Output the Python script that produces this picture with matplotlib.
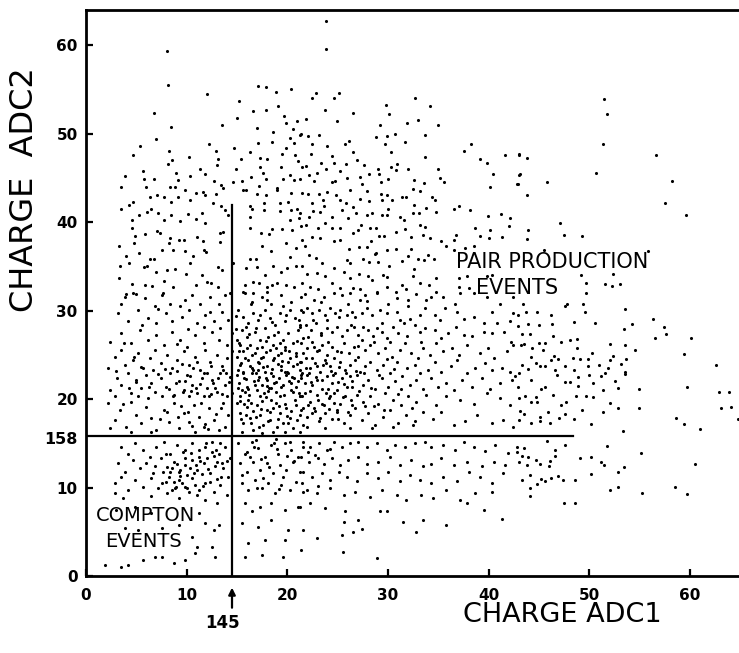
import numpy as np
import matplotlib.pyplot as plt

# events, (ADC1, ADC2) charge pairs, grouped by area of the plane
upper_left = [
    (8.0, 59.4), (8.1, 55.5), (12.0, 54.5), (17.1, 55.4), (17.9, 55.3), (18.9, 54.7), (20.4, 55.1), (6.8, 52.3),
    (15.2, 53.7), (16.6, 52.6), (17.9, 52.7), (19.1, 53.1), (15.0, 51.8), (8.4, 50.8), (13.5, 51.0), (17.0, 50.7),
    (18.6, 50.2), (19.7, 52.0), (19.9, 51.2), (21.0, 51.5), (20.6, 50.5), (21.4, 50.0), (7.0, 49.4), (5.4, 48.6),
    (4.7, 47.6), (8.2, 48.1), (8.1, 46.6), (8.5, 47.0), (12.2, 48.8), (10.2, 47.4), (12.9, 48.1), (14.7, 48.4),
    (15.4, 47.2), (16.3, 47.9), (17.1, 49.0), (17.3, 47.3), (18.0, 47.2), (18.5, 49.1), (19.9, 48.4), (20.3, 49.5),
    (20.7, 49.0), (20.8, 47.6), (21.1, 46.9), (19.5, 47.7), (3.9, 45.2), (3.5, 44.0), (5.7, 45.8), (5.8, 44.9),
    (6.8, 44.9), (8.3, 44.0), (8.9, 45.6), (8.8, 44.0), (9.1, 44.8), (10.3, 45.2), (11.3, 46.0), (11.8, 45.5),
    (12.7, 44.7), (13.0, 46.5), (13.1, 47.2), (13.4, 44.2), (13.6, 43.9), (14.6, 44.5), (14.9, 46.0), (15.5, 44.7),
    (15.9, 43.7), (16.4, 45.1), (17.3, 46.2), (17.6, 45.6), (17.9, 44.9), (17.2, 44.1), (19.6, 44.9), (19.4, 46.3),
    (19.0, 43.9), (20.3, 45.3), (20.7, 44.8), (21.5, 46.3), (3.5, 41.5), (4.3, 42.0), (4.7, 42.3), (6.0, 44.0),
    (6.4, 42.8), (7.1, 43.1), (7.7, 42.9), (8.4, 42.3), (9.1, 42.9), (9.8, 43.7), (10.3, 42.5), (10.9, 43.3),
    (11.6, 43.4), (11.8, 43.1), (12.6, 42.2), (12.9, 43.2), (13.4, 41.8), (13.8, 41.4), (15.6, 43.6), (16.3, 41.8),
    (16.5, 41.5), (17.0, 43.2), (17.7, 42.2), (17.9, 43.1), (19.0, 43.7), (19.3, 42.2), (20.1, 42.3), (20.4, 43.3),
    (21.0, 41.5), (21.5, 43.3), (5.3, 40.8), (6.1, 41.2), (6.5, 41.5), (7.2, 41.0), (7.7, 40.2), (4.6, 40.2),
    (8.4, 40.8), (9.3, 40.1), (10.1, 40.9), (10.9, 40.4), (11.5, 41.1), (11.8, 39.9), (14.1, 40.8), (16.3, 40.6),
    (17.7, 41.4), (19.3, 41.3), (20.4, 41.4), (20.3, 40.3), (21.2, 40.5), (4.6, 39.4), (4.9, 38.5), (5.9, 38.7),
    (7.1, 39.0), (7.3, 38.8), (8.3, 38.2), (9.2, 38.0), (9.7, 38.0), (11.0, 38.3), (11.6, 37.9), (13.3, 38.8),
    (13.6, 38.9), (16.3, 39.4), (17.4, 38.8), (18.2, 38.7), (18.5, 39.2), (19.5, 39.2), (20.5, 39.1), (21.4, 39.6),
    (4.8, 37.7), (5.3, 36.5), (3.3, 37.3), (4.0, 36.2), (6.4, 35.9), (6.8, 35.9), (7.5, 36.9), (8.2, 37.7),
    (8.6, 36.9), (9.8, 36.8), (10.6, 36.2), (11.7, 36.9), (11.9, 36.6), (13.3, 37.8), (16.3, 35.9), (16.9, 35.8),
    (17.5, 37.3), (18.4, 36.7), (19.9, 37.6), (20.3, 36.1), (20.9, 37.1), (21.7, 37.3), (3.4, 35.1), (4.3, 35.4),
    (5.8, 34.9), (6.1, 35.1), (7.0, 34.4), (8.0, 34.6), (8.8, 34.7), (9.9, 34.1), (10.3, 35.4), (11.5, 34.0),
    (13.1, 34.9), (13.5, 34.6), (14.6, 35.4), (15.9, 34.8), (17.0, 34.9), (17.8, 34.0), (18.6, 35.0), (19.4, 34.4),
    (20.0, 34.8), (20.9, 35.0), (3.3, 33.7), (4.6, 33.0), (5.9, 32.9), (6.6, 32.8), (7.7, 33.4), (8.6, 32.7),
    (10.9, 32.9), (12.0, 33.2), (12.4, 33.1), (13.1, 32.7), (15.8, 32.9), (16.6, 33.2), (17.2, 33.1), (18.0, 32.7),
    (18.5, 32.9), (19.0, 33.1), (19.9, 32.9), (20.7, 32.7), (21.5, 33.1), (4.0, 31.9), (5.0, 31.9), (7.6, 32.0),
    (14.3, 32.0), (15.6, 32.1), (16.6, 32.0), (18.0, 32.1),
]

upper_mid = [
    (23.8, 62.7), (23.8, 59.6), (22.8, 54.6), (22.4, 54.1), (24.6, 54.0), (25.1, 54.6), (23.7, 52.7), (21.8, 51.7),
    (24.9, 51.4), (26.5, 52.3), (29.8, 53.3), (32.7, 54.0), (34.2, 53.1), (30.1, 52.2), (29.2, 51.0), (31.9, 51.2),
    (33.0, 51.6), (35.0, 51.0), (21.3, 49.9), (22.0, 49.7), (23.1, 49.9), (22.4, 48.8), (23.9, 48.6), (22.3, 47.7),
    (24.4, 47.5), (25.7, 48.8), (26.1, 49.2), (26.5, 48.0), (28.8, 49.6), (29.7, 48.8), (29.9, 49.7), (30.7, 50.0),
    (31.7, 49.1), (33.7, 49.9), (33.7, 47.4), (30.3, 48.0), (21.8, 46.4), (23.3, 46.7), (24.6, 46.7), (25.8, 46.6),
    (26.9, 47.0), (27.6, 46.5), (29.0, 46.0), (30.3, 46.3), (30.9, 46.6), (30.8, 45.9), (32.0, 46.0), (35.0, 46.0),
    (37.5, 48.1), (38.2, 48.8), (39.1, 47.1), (39.8, 46.7), (41.6, 47.6), (43.0, 47.6), (40.4, 45.4), (40.1, 44.0),
    (43.0, 45.3), (42.8, 44.3), (21.3, 44.9), (22.1, 45.3), (22.6, 44.7), (22.9, 45.6), (23.8, 46.0), (24.4, 44.5),
    (24.7, 44.7), (25.2, 45.8), (25.9, 45.0), (27.2, 45.1), (27.4, 44.3), (28.1, 45.4), (29.1, 45.4), (29.3, 44.6),
    (30.0, 44.9), (32.6, 44.8), (33.6, 44.4), (35.2, 45.0), (35.6, 44.5), (33.2, 43.5), (32.5, 43.8), (22.0, 43.2),
    (22.4, 42.2), (23.1, 43.2), (23.5, 42.5), (23.9, 43.4), (24.8, 43.1), (25.2, 42.5), (26.2, 43.7), (25.8, 42.2),
    (27.2, 42.6), (27.9, 43.5), (28.1, 42.4), (29.3, 43.2), (29.4, 42.5), (29.9, 43.1), (30.4, 42.5), (31.4, 42.9),
    (31.8, 42.9), (32.6, 42.0), (33.8, 41.6), (34.4, 42.9), (34.7, 42.5), (34.8, 41.2), (36.5, 41.5), (37.0, 41.8),
    (38.1, 41.4), (39.9, 40.7), (41.2, 40.9), (42.1, 40.5), (42.0, 39.6), (38.6, 39.4), (40.1, 39.1), (39.1, 38.5),
    (40.0, 38.2), (41.3, 38.3), (21.3, 41.0), (22.1, 40.6), (22.5, 41.3), (23.2, 41.2), (23.6, 41.8), (24.4, 40.6),
    (25.4, 41.4), (26.0, 40.5), (26.5, 41.7), (26.8, 41.1), (27.9, 40.8), (28.4, 41.0), (29.4, 40.8), (29.9, 40.8),
    (30.0, 41.5), (31.2, 40.6), (31.6, 40.3), (32.5, 41.0), (33.1, 41.0), (21.8, 39.7), (23.0, 39.4), (23.7, 39.9),
    (24.4, 39.4), (25.2, 39.4), (26.5, 38.8), (27.0, 39.1), (27.3, 39.7), (28.2, 39.4), (28.8, 39.3), (29.1, 38.4),
    (29.6, 38.5), (30.8, 38.9), (31.7, 39.2), (32.3, 38.3), (33.2, 39.7), (33.7, 39.5), (33.5, 38.6), (34.2, 38.2),
    (35.3, 37.9), (36.5, 38.0), (36.7, 38.6), (37.6, 37.1), (38.5, 37.3), (21.5, 38.0), (22.4, 38.3), (23.2, 38.2),
    (24.6, 37.9), (25.2, 38.0), (26.1, 37.0), (27.1, 37.2), (27.9, 37.2), (28.3, 37.9), (28.8, 36.5), (29.9, 36.9),
    (30.8, 37.0), (32.0, 36.2), (32.3, 37.0), (33.0, 35.9), (33.6, 35.7), (34.0, 36.3), (34.6, 35.9), (22.1, 36.3),
    (22.8, 36.0), (23.4, 35.4), (24.6, 34.8), (25.9, 35.7), (26.2, 35.4), (27.5, 35.9), (28.1, 35.5), (28.7, 36.4),
    (29.0, 35.5), (30.1, 35.1), (31.4, 35.6), (32.6, 34.7), (21.5, 35.0), (21.9, 34.2), (22.9, 34.3), (23.7, 33.9),
    (24.4, 33.1), (25.6, 34.4), (26.2, 33.7), (27.1, 34.2), (28.0, 33.9), (28.4, 33.5), (29.5, 34.0), (29.9, 33.8),
    (31.4, 32.9), (32.5, 33.9), (33.2, 33.1), (34.1, 32.9), (34.8, 33.7), (22.2, 32.7), (23.0, 32.4), (25.2, 32.6),
    (26.5, 32.6), (27.2, 32.4), (28.9, 32.1), (29.9, 32.7), (30.8, 32.1), (31.8, 32.5), (34.8, 32.1), (36.5, 36.9),
    (35.8, 37.3), (37.0, 33.7), (37.8, 33.9), (37.0, 32.7), (38.0, 32.6), (40.3, 34.0), (39.8, 33.9),
]

upper_right = [
    (51.4, 53.9), (51.7, 52.2), (51.3, 48.8), (43.0, 47.7), (43.8, 47.3), (43.1, 45.4), (42.9, 44.3), (43.8, 43.1),
    (45.8, 44.5), (50.6, 45.6), (56.6, 47.6), (58.2, 44.7), (57.5, 42.2), (59.6, 40.8), (47.1, 39.9), (43.9, 39.1),
    (43.8, 38.1), (47.5, 38.6), (49.3, 38.5), (45.5, 36.9), (55.8, 36.7), (49.2, 34.0), (52.3, 34.2), (49.7, 33.1),
    (51.5, 33.0), (52.2, 32.8), (53.0, 33.0),
]

lower_right = [
    (49.7, 32.0), (43.4, 30.8), (42.9, 29.5), (43.7, 29.9), (44.8, 29.9), (46.2, 29.5), (47.6, 30.5), (47.8, 30.7),
    (49.4, 30.7), (49.6, 29.8), (53.5, 30.2), (56.3, 29.1), (57.4, 28.2), (57.6, 27.4), (56.5, 26.9), (60.1, 26.9),
    (42.9, 28.3), (43.9, 28.5), (45.0, 28.4), (46.3, 28.5), (48.5, 28.7), (50.5, 28.6), (54.2, 28.5), (53.4, 27.9),
    (43.3, 27.4), (44.1, 27.4), (46.4, 27.1), (43.2, 26.1), (43.5, 26.2), (44.3, 25.8), (45.0, 26.3), (45.6, 26.4),
    (45.4, 25.6), (47.2, 26.5), (48.1, 26.7), (48.8, 26.8), (48.8, 25.8), (52.0, 26.2), (53.5, 26.1), (54.5, 25.5),
    (50.3, 25.2), (59.4, 25.1), (62.6, 23.9), (44.2, 24.8), (43.3, 23.9), (43.9, 23.4), (44.7, 24.1), (45.1, 23.8),
    (45.6, 23.8), (46.2, 24.4), (46.5, 24.9), (46.9, 24.5), (47.6, 23.7), (48.4, 24.7), (49.1, 24.5), (49.9, 24.5),
    (49.9, 23.7), (50.9, 23.9), (52.0, 24.4), (52.3, 24.9), (53.1, 24.0), (53.6, 24.5), (51.8, 23.5), (51.5, 22.9),
    (53.5, 23.1), (53.5, 22.8), (43.0, 23.0), (42.6, 22.6), (46.6, 23.3), (46.8, 22.7), (48.5, 23.3), (48.9, 22.5),
    (50.0, 22.7), (51.1, 22.6), (52.5, 22.0), (52.8, 21.3), (44.2, 22.2), (45.2, 21.2), (45.6, 21.4), (42.9, 21.4),
    (47.6, 21.9), (48.1, 21.9), (48.9, 21.5), (50.4, 21.8), (51.3, 21.0), (54.9, 21.1), (59.7, 21.4), (62.9, 20.8),
    (63.9, 20.8), (43.0, 20.1), (43.6, 20.4), (44.2, 19.7), (44.7, 20.2), (44.8, 19.7), (46.4, 20.5), (47.2, 19.3),
    (47.7, 19.7), (48.7, 20.3), (49.7, 20.4), (50.4, 20.2), (52.0, 19.6), (52.8, 19.0), (54.9, 19.0), (63.1, 19.0),
    (64.1, 19.1), (64.8, 17.8), (43.1, 18.7), (43.5, 18.3), (45.1, 18.0), (45.9, 18.6), (47.0, 17.9), (47.6, 18.3),
    (48.5, 17.8), (49.3, 18.8), (51.3, 18.5), (43.0, 17.6), (44.2, 17.3), (45.1, 17.5), (46.1, 17.3), (50.2, 17.2),
    (58.6, 17.9), (59.4, 17.2), (61.0, 16.6), (53.3, 16.4), (45.8, 15.3), (47.6, 14.8), (51.7, 14.7), (43.5, 14.5),
    (42.8, 14.0), (43.3, 13.6), (43.9, 13.4), (44.7, 13.1), (45.1, 12.7), (46.1, 13.0), (46.0, 12.4), (46.6, 14.3),
    (46.6, 13.6), (43.0, 12.9), (43.8, 12.6), (49.1, 13.3), (50.2, 13.5), (51.1, 12.9), (51.4, 12.6), (55.1, 13.9),
    (60.5, 12.7), (53.4, 12.3), (52.8, 11.8), (43.3, 10.8), (44.1, 11.4), (44.8, 10.4), (45.2, 11.0), (45.6, 10.7),
    (46.2, 11.1), (46.9, 11.3), (47.4, 10.8), (48.6, 10.8), (50.2, 11.5), (44.1, 10.0), (44.1, 9.0), (52.0, 9.7),
    (52.8, 10.1), (55.2, 9.4), (58.5, 10.1), (59.7, 9.3), (47.5, 8.3), (48.6, 8.3),
]

mid_band = [
    (21.7, 31.9), (22.6, 31.2), (23.6, 31.6), (24.6, 32.0), (25.4, 31.8), (26.2, 32.0), (27.2, 31.2), (27.7, 31.8),
    (28.9, 32.0), (30.0, 30.8), (30.9, 31.4), (32.0, 31.2), (32.8, 31.9), (33.8, 31.2), (34.3, 31.6), (35.5, 31.6),
    (36.6, 30.8), (37.1, 32.0), (38.5, 32.0), (39.8, 31.6), (41.1, 30.8), (42.4, 31.6),
    (21.4, 30.1), (21.9, 30.3), (22.4, 29.7), (23.1, 30.1), (23.7, 29.5), (24.2, 30.3), (24.7, 29.7), (25.2, 30.1),
    (25.9, 29.5), (26.4, 29.9), (26.7, 29.3), (27.4, 29.7), (27.9, 30.3), (28.4, 29.5), (29.2, 30.1), (29.9, 29.7),
    (30.9, 29.9), (31.2, 29.0), (32.0, 30.5), (32.2, 29.1), (33.2, 29.5), (33.7, 30.3), (34.7, 29.5), (35.2, 29.0),
    (35.7, 30.3), (36.8, 29.9), (37.5, 29.1), (38.5, 29.3), (39.5, 28.6), (40.3, 29.9), (40.8, 28.6), (42.1, 28.8),
    (42.4, 29.7),
    (21.3, 28.2), (21.8, 28.4), (22.3, 27.8), (22.8, 28.6), (23.3, 27.5), (23.9, 28.0), (24.4, 27.6), (24.9, 28.2),
    (25.4, 27.1), (25.9, 27.8), (26.6, 28.2), (27.0, 27.3), (27.4, 26.7), (28.0, 27.8), (28.5, 27.1), (29.4, 27.6),
    (29.9, 26.9), (30.5, 28.2), (31.0, 27.5), (31.9, 27.1), (32.7, 28.4), (33.2, 27.6), (33.7, 28.0), (34.7, 27.8),
    (35.3, 26.9), (36.0, 27.5), (36.7, 28.2), (37.5, 27.3), (38.3, 27.1), (39.5, 27.6), (40.3, 27.5), (41.5, 27.6),
    (42.2, 26.5),
    (21.4, 26.3), (21.9, 25.8), (22.4, 26.5), (22.9, 25.4), (23.4, 26.1), (23.9, 25.0), (24.4, 25.9), (24.9, 25.4),
    (25.6, 26.3), (26.1, 25.2), (26.6, 25.9), (27.0, 24.8), (27.7, 25.6), (28.2, 26.1), (29.0, 25.2), (29.7, 25.8),
    (30.4, 24.8), (31.2, 25.6), (31.7, 26.3), (32.3, 25.2), (33.0, 24.6), (33.5, 25.8), (34.2, 25.0), (34.8, 26.3),
    (35.5, 25.4), (36.3, 25.8), (37.0, 25.0), (37.8, 26.1), (39.1, 25.2), (39.9, 25.8), (40.5, 24.6), (41.8, 25.4),
    (42.4, 26.1),
    (21.3, 24.2), (21.8, 24.6), (22.2, 23.5), (22.7, 24.1), (23.2, 23.1), (23.7, 24.4), (24.2, 23.7), (24.7, 22.9),
    (25.2, 24.2), (25.7, 23.3), (26.2, 23.9), (26.7, 24.4), (27.2, 23.1), (27.7, 23.7), (28.2, 24.2), (28.9, 23.3),
    (29.5, 23.9), (30.2, 22.9), (30.9, 24.2), (31.9, 23.5), (32.7, 23.9), (33.2, 22.9), (34.0, 23.3), (34.7, 24.2),
    (35.3, 23.1), (36.2, 23.7), (36.8, 24.4), (37.8, 22.9), (38.6, 23.5), (39.6, 24.1), (40.3, 23.3), (41.3, 23.5),
    (42.1, 23.1),
    (21.4, 22.4), (21.9, 22.7), (22.4, 21.6), (22.9, 22.2), (23.4, 21.2), (23.9, 22.6), (24.4, 21.8), (24.9, 21.0),
    (25.4, 22.4), (25.9, 21.4), (26.4, 22.0), (26.9, 22.7), (27.5, 21.6), (28.0, 22.2), (28.7, 21.2), (29.4, 22.4),
    (30.0, 21.4), (30.7, 22.0), (31.4, 22.6), (32.2, 21.6), (32.8, 22.2), (33.5, 21.2), (34.3, 22.4), (35.0, 21.4),
    (35.8, 21.8), (36.5, 21.0), (37.3, 22.2), (38.3, 21.4), (39.3, 22.4), (40.1, 21.2), (41.1, 21.8), (42.3, 22.2),
    (21.3, 20.3), (21.7, 20.7), (22.2, 19.7), (22.9, 20.5), (23.6, 19.3), (24.1, 20.1), (24.6, 20.7), (25.2, 19.5),
    (25.7, 20.3), (26.4, 19.3), (26.9, 20.5), (27.5, 19.7), (28.2, 20.3), (29.0, 19.5), (29.7, 20.7), (30.5, 19.9),
    (31.3, 19.3), (32.0, 20.3), (32.8, 19.7), (33.8, 20.5), (34.8, 19.3), (35.8, 20.3), (37.1, 19.9), (38.5, 19.5),
    (39.8, 20.7), (41.1, 20.1), (42.1, 19.3),
    (21.4, 18.8), (21.9, 18.0), (22.6, 19.0), (23.1, 17.5), (23.7, 18.4), (24.4, 17.8), (24.9, 18.8), (25.6, 17.3),
    (26.2, 18.2), (26.7, 19.0), (27.4, 17.6), (28.0, 18.4), (28.7, 17.1), (29.5, 18.0), (30.2, 18.8), (31.0, 17.3),
    (31.8, 18.2), (32.7, 17.5), (33.5, 18.6), (34.5, 17.8), (35.3, 18.6), (36.5, 17.1), (37.6, 17.5), (38.8, 18.2),
    (40.3, 17.3), (41.4, 17.6), (42.4, 16.9), (21.9, 16.9), (23.7, 16.7), (26.2, 16.7), (28.4, 16.7), (30.5, 16.9),
    (32.5, 17.1),
    (21.6, 15.2), (22.2, 14.6), (23.1, 15.0), (23.9, 14.25), (24.6, 15.2), (25.4, 14.6), (26.2, 15.0), (27.0, 15.2),
    (27.9, 14.6), (28.9, 15.0), (29.9, 14.25), (30.7, 14.8), (31.7, 14.6), (32.7, 15.0), (33.7, 15.2), (34.3, 14.6),
    (35.5, 14.8), (36.6, 14.25), (37.5, 15.2), (38.5, 14.6), (39.6, 14.1), (40.6, 14.8), (41.9, 13.9), (42.8, 14.6),
    (21.4, 13.5), (22.1, 12.9), (22.7, 13.7), (23.6, 12.7), (24.4, 13.3), (25.2, 12.55), (26.0, 13.1), (27.0, 13.5),
    (27.9, 12.7), (29.0, 12.9), (30.2, 13.5), (31.2, 12.55), (32.3, 13.1), (33.5, 12.4), (34.3, 12.7), (35.3, 13.3),
    (36.5, 12.55), (37.8, 12.9), (39.3, 12.4), (40.5, 12.9), (41.6, 12.55),
    (21.6, 11.8), (22.4, 11.2), (23.4, 11.6), (24.2, 10.85), (25.1, 11.8), (25.9, 11.2), (26.9, 10.7), (27.9, 11.6),
    (29.0, 11.05), (30.0, 11.8), (31.2, 10.7), (32.2, 11.4), (33.2, 10.85), (34.3, 10.5), (35.5, 11.2), (36.8, 10.7),
    (38.0, 11.8), (39.1, 11.2), (40.3, 10.5), (41.4, 11.6),
    (21.9, 9.7), (22.9, 9.35), (24.2, 9.9), (25.6, 9.15), (26.7, 9.55), (28.2, 8.95), (29.4, 9.7), (30.9, 9.15),
    (31.8, 8.6), (33.3, 9.15), (34.5, 8.8), (35.8, 9.7), (37.1, 8.6), (38.6, 9.35), (40.3, 9.55), (41.3, 6.5),
    (39.5, 7.45), (37.8, 8.2),
    (21.3, 7.85), (22.2, 8.2), (23.7, 7.65), (25.7, 7.3), (27.0, 6.35), (29.2, 7.3), (29.9, 7.3), (31.5, 6.15),
    (33.5, 6.35), (35.8, 5.75), (25.6, 6.15), (22.9, 4.25), (25.4, 4.65), (26.5, 5.0), (27.4, 5.3), (32.8, 5.0),
    (21.4, 2.95), (25.5, 2.7), (28.9, 2.0), (21.6, 5.2),
]

lower_left = [
    (3.9, 31.6), (4.7, 32.0), (5.9, 31.4), (7.5, 31.8), (8.3, 30.8), (9.8, 31.2), (10.5, 31.8), (11.3, 30.7),
    (12.3, 31.6), (13.2, 30.8), (13.8, 31.8), (15.8, 32.0), (16.5, 31.0), (17.5, 31.6), (18.4, 30.7), (19.4, 31.8),
    (20.4, 31.0), (21.4, 31.6), (3.5, 30.7), (6.9, 30.5), (9.3, 30.5),
    (3.2, 29.7), (4.2, 28.8), (5.2, 30.1), (6.2, 29.15), (7.0, 28.6), (7.9, 29.7), (8.5, 28.8), (9.5, 29.3),
    (10.2, 30.1), (11.0, 28.6), (11.8, 29.5), (12.7, 28.8), (13.5, 29.9), (14.1, 28.95), (15.1, 30.1), (15.6, 29.3),
    (16.1, 28.6), (16.6, 29.7), (17.1, 28.95), (17.8, 30.1), (18.3, 29.15), (18.8, 28.4), (19.3, 29.7), (19.8, 28.8),
    (20.3, 30.1), (20.8, 29.15), (21.3, 28.4), (21.6, 29.9),
    (2.4, 26.5), (3.5, 27.45), (4.5, 26.3), (5.4, 27.8), (6.2, 26.7), (7.0, 27.25), (7.7, 26.1), (8.5, 27.6),
    (9.3, 26.7), (10.0, 25.9), (10.8, 27.25), (11.7, 26.3), (12.5, 27.6), (13.2, 26.7), (14.0, 26.1), (14.5, 27.45),
    (15.0, 26.7), (15.5, 27.8), (16.0, 27.05), (16.3, 26.1), (16.8, 27.6), (17.3, 26.7), (17.8, 28.0), (18.1, 27.05),
    (18.6, 26.1), (19.1, 27.6), (19.6, 26.7), (20.1, 27.45), (20.6, 26.3), (21.1, 27.8), (21.6, 26.9), (15.3, 26.1),
    (17.5, 25.9), (19.8, 25.9),
    (2.2, 23.5), (2.9, 24.8), (3.5, 25.55), (3.9, 23.85), (4.7, 24.4), (5.2, 25.2), (5.7, 23.5), (6.4, 24.6),
    (6.9, 25.55), (7.4, 24.05), (8.0, 25.0), (8.5, 23.5), (9.0, 24.4), (9.7, 25.4), (10.2, 23.85), (10.8, 24.8),
    (11.3, 23.3), (11.8, 25.55), (12.3, 24.25), (13.0, 25.0), (13.5, 23.7), (14.0, 24.6), (14.5, 25.4),
    (15.0, 24.8), (15.3, 23.85), (15.6, 25.4), (16.1, 24.4), (16.5, 23.5), (16.8, 25.2), (17.1, 24.25), (17.6, 24.8),
    (18.0, 23.7), (18.3, 25.55), (18.6, 24.4), (19.1, 25.0), (19.4, 23.7), (19.8, 25.55), (20.3, 24.6), (20.6, 23.7),
    (20.9, 25.2), (21.4, 24.25), (15.1, 23.3), (17.1, 23.3), (19.4, 23.3), (21.3, 23.3), (16.0, 25.75), (18.9, 25.75),
    (2.4, 21.05), (3.1, 22.35), (3.5, 21.6), (4.2, 22.9), (4.5, 20.65), (5.0, 22.15), (5.5, 21.25), (6.0, 22.7),
    (6.5, 21.8), (6.9, 20.85), (7.4, 22.35), (7.9, 21.4), (8.3, 22.9), (8.7, 20.5), (9.2, 22.0), (9.7, 21.05),
    (10.0, 22.7), (10.5, 21.6), (11.0, 20.65), (11.5, 22.35), (12.0, 21.25), (12.5, 22.15), (13.0, 20.85), (13.3, 22.9),
    (13.8, 21.6), (14.3, 22.55), (14.5, 20.65), (2.9, 20.3), (5.2, 20.3), (7.5, 20.3), (10.2, 20.3), (12.2, 20.3),
    (15.0, 22.7), (15.2, 21.8), (15.5, 21.05), (15.7, 22.35), (16.0, 21.4), (16.2, 20.5), (16.5, 22.9), (16.7, 22.0),
    (17.0, 21.05), (17.2, 22.55), (17.5, 21.6), (17.7, 20.65), (18.0, 22.15), (18.2, 21.25), (18.4, 22.9), (18.7, 21.8),
    (18.9, 20.85), (19.2, 22.35), (19.4, 21.4), (19.7, 20.5), (19.9, 22.7), (20.2, 22.0), (20.4, 21.05), (20.7, 22.35),
    (20.9, 21.4), (21.2, 20.65), (21.4, 22.7), (21.7, 21.8), (15.6, 23.1), (17.8, 23.1), (19.8, 23.1), (15.3, 20.3),
    (17.3, 20.3), (19.3, 20.3), (21.3, 20.3), (16.8, 21.6), (18.4, 21.25), (20.4, 21.8), (15.8, 20.85), (18.0, 21.5),
    (2.2, 19.55), (2.9, 17.65), (3.4, 18.8), (4.0, 16.9), (4.5, 19.7), (5.0, 18.2), (5.5, 17.25), (6.0, 19.15),
    (6.5, 17.85), (7.0, 16.5), (7.7, 18.8), (8.2, 17.45), (8.7, 19.55), (9.2, 16.7), (9.7, 18.4), (10.2, 17.45),
    (10.7, 19.35), (11.2, 18.0), (11.7, 16.9), (12.2, 18.95), (12.7, 17.65), (13.2, 16.5), (13.6, 19.55), (14.1, 18.2),
    (2.4, 16.7), (4.5, 16.3), (6.5, 16.3), (10.8, 16.3), (13.8, 16.9),
    (15.0, 19.55), (15.3, 18.4), (15.6, 17.25), (16.0, 19.15), (16.3, 17.85), (16.6, 16.5), (17.0, 19.35), (17.3, 18.2),
    (17.6, 17.1), (18.0, 18.8), (18.3, 17.65), (18.6, 16.3), (18.9, 19.55), (19.3, 18.4), (19.6, 17.25), (19.9, 18.95),
    (20.3, 17.85), (20.6, 16.7), (20.9, 19.35), (21.3, 18.2), (21.6, 17.1), (15.5, 16.3), (17.5, 16.15), (19.8, 16.3),
    (21.3, 16.3), (16.1, 19.9), (18.4, 19.9),
    (3.5, 14.6), (4.2, 13.85), (4.9, 15.0), (5.7, 14.25), (6.4, 13.5), (7.0, 14.6), (7.7, 15.2), (8.3, 13.85),
    (9.0, 14.8), (9.8, 14.25), (10.5, 15.0), (11.2, 13.5), (11.8, 14.6), (12.5, 15.2), (13.2, 13.85), (13.8, 14.6),
    (14.3, 13.3),
    (3.2, 12.75), (3.9, 11.8), (4.7, 13.1), (5.4, 12.2), (6.0, 12.75), (6.7, 11.6), (7.4, 13.3), (8.0, 12.35),
    (8.7, 12.9), (9.2, 11.8), (9.8, 12.55), (10.5, 13.1), (11.0, 12.0), (11.7, 12.75), (12.3, 11.6), (13.0, 12.9),
    (13.6, 12.2), (14.1, 11.25),
    (2.9, 10.5), (3.5, 11.25), (4.2, 9.7), (4.9, 10.85), (5.7, 10.1), (6.5, 11.05), (7.2, 9.9), (7.9, 10.65),
    (8.5, 9.7), (9.2, 10.85), (9.8, 10.1), (10.5, 11.05), (11.2, 9.7), (11.8, 10.5), (12.7, 9.55), (13.3, 10.3),
    (14.0, 9.15), (2.9, 9.35), (3.7, 8.8), (6.5, 9.0), (9.2, 8.8), (11.8, 8.6), (13.0, 8.2),
    (8.2, 11.25), (8.7, 10.65), (9.5, 10.5), (10.0, 11.4), (8.8, 9.9), (10.2, 9.55), (7.5, 10.5), (9.3, 12.0),
    (8.3, 11.8), (9.8, 13.3), (10.8, 10.3), (8.0, 9.35),
    (11.2, 7.1), (11.8, 5.95), (12.7, 5.2), (13.2, 5.75), (10.5, 4.45), (11.0, 3.3), (12.5, 3.3), (1.9, 1.25),
    (3.5, 1.05), (4.2, 1.25), (5.7, 1.8), (6.9, 2.2), (7.5, 2.2), (8.7, 1.45), (9.8, 1.8), (10.8, 2.55),
    (12.8, 2.2), (5.2, 5.2), (9.2, 5.75), (3.9, 5.4), (7.5, 5.4), (3.0, 7.45), (4.9, 7.85), (6.5, 7.1),
    (15.1, 15.0), (15.8, 13.85), (16.5, 15.2), (17.1, 14.45), (17.8, 13.5), (18.4, 14.8), (19.1, 13.85), (19.8, 15.0),
    (20.4, 14.25), (21.1, 13.5), (21.6, 14.6),
    (15.3, 12.75), (16.0, 11.8), (16.6, 12.9), (17.3, 12.0), (18.0, 12.75), (18.6, 11.6), (19.3, 12.55), (19.9, 12.0),
    (20.6, 12.9), (21.3, 11.8),
    (15.5, 10.5), (16.1, 9.7), (16.8, 10.85), (17.5, 9.9), (18.1, 10.5), (18.8, 9.35), (19.4, 10.3), (20.3, 9.7),
    (20.9, 10.65), (21.6, 9.55),
    (15.8, 8.2), (16.5, 7.3), (17.3, 7.85), (18.4, 8.2), (19.8, 7.45), (21.1, 7.85), (15.5, 5.95), (17.1, 5.55),
    (18.4, 6.35), (20.1, 5.2), (16.1, 3.7), (17.8, 4.05), (19.8, 4.05), (15.8, 2.2), (17.5, 2.4), (19.6, 2.2),
]

# extra events in the crowded pair-production and compton cores
core = [
    (15.4, 24.1), (15.9, 22.3), (16.3, 23.8), (16.9, 22.9), (17.4, 24.6), (17.9, 22.4), (18.5, 23.4), (18.9, 21.9),
    (19.5, 24.3), (20.0, 23.1), (20.5, 22.5), (21.0, 24.0), (21.5, 23.0), (15.2, 26.3), (16.2, 27.4), (17.0, 25.8),
    (17.9, 26.6), (18.7, 27.3), (19.3, 26.3), (20.2, 25.4), (21.0, 26.6), (22.0, 27.0), (22.6, 25.9), (23.3, 27.2),
    (24.0, 26.5), (24.6, 24.6), (25.3, 25.3), (22.1, 23.0), (22.8, 22.5), (23.5, 23.9), (24.3, 23.2), (25.0, 21.9),
    (25.8, 22.9), (26.4, 21.4), (22.2, 20.9), (23.0, 19.9), (23.8, 20.7), (24.6, 19.6), (25.5, 20.2), (26.3, 19.9),
    (27.1, 20.9), (27.7, 19.2), (22.4, 18.4), (23.2, 17.9), (24.1, 18.9), (25.0, 17.7), (26.0, 18.5), (15.7, 19.4),
    (16.6, 18.7), (17.5, 19.8), (18.3, 18.5), (19.2, 19.2), (20.0, 18.1), (20.8, 19.9), (21.6, 19.0), (15.4, 17.8),
    (16.4, 17.3), (17.2, 16.8), (18.1, 17.5), (19.0, 16.9), (20.1, 17.3), (9.0, 23.2), (9.8, 22.1), (10.6, 23.5),
    (11.3, 21.7), (12.0, 22.9), (12.8, 21.3), (13.6, 23.3), (14.2, 21.9), (8.6, 20.4), (9.4, 19.2), (10.4, 20.9),
    (11.4, 19.6), (12.4, 20.6), (13.4, 19.0), (14.0, 20.4), (7.2, 22.8), (6.2, 20.1), (5.5, 23.6), (4.3, 21.3),
    (3.7, 19.5), (11.8, 17.2), (10.1, 18.6), (8.0, 18.5), (12.9, 18.3), (22.5, 28.9), (23.9, 29.0), (25.1, 29.3),
    (26.3, 28.4), (27.5, 28.2), (28.6, 26.5), (29.4, 28.6), (15.9, 28.2), (17.3, 29.5), (18.5, 28.7), (19.9, 29.5),
    (21.2, 29.0), (16.4, 30.8), (18.0, 31.2), (19.6, 30.5), (14.9, 29.4), (13.3, 28.0), (11.7, 28.1), (10.1, 27.9),
    (9.0, 26.2), (16.0, 14.0), (17.4, 13.2), (19.0, 14.4), (20.7, 13.0), (15.5, 11.4), (17.6, 11.1), (19.6, 11.2),
    (16.9, 15.4), (18.9, 15.5), (12.0, 13.3), (12.8, 12.4), (11.5, 11.5), (12.3, 10.6), (10.9, 12.6), (13.4, 11.2),
    (9.6, 14.0), (11.2, 14.2), (10.0, 10.0), (11.0, 9.2), (12.9, 14.3),
]

core_dense = [
    (15.1, 21.3), (15.6, 22.9), (16.1, 21.1), (16.6, 23.3), (17.1, 22.2), (17.6, 23.6), (18.1, 20.9), (18.6, 22.6),
    (19.1, 24.0), (19.6, 21.6), (20.1, 22.9), (20.6, 20.8), (21.1, 22.1), (21.8, 23.5), (22.3, 21.9), (22.9, 23.8),
    (23.4, 22.2), (24.0, 21.1), (24.5, 22.7), (25.1, 23.6), (25.6, 21.7), (26.2, 22.6), (26.8, 23.2), (15.3, 19.8),
    (15.9, 18.2), (16.4, 19.6), (16.9, 18.0), (17.4, 18.9), (17.9, 20.2), (18.6, 19.0), (19.1, 17.8), (19.8, 19.5),
    (20.4, 18.7), (21.0, 17.6), (21.5, 20.4), (22.0, 19.3), (22.7, 18.7), (23.4, 19.5), (24.2, 20.3), (24.9, 18.5),
    (15.2, 25.4), (15.8, 24.6), (16.5, 25.0), (17.2, 24.1), (17.9, 25.3), (18.7, 24.7), (19.4, 25.2), (20.1, 24.2),
    (20.9, 24.9), (21.6, 25.2), (22.4, 24.6), (23.1, 25.5), (23.8, 24.1), (9.5, 24.0), (10.3, 22.6), (11.0, 24.2),
    (11.7, 22.9), (12.4, 23.8), (13.1, 22.4), (13.9, 23.0), (8.9, 21.8), (9.6, 20.8), (10.9, 21.3), (11.7, 20.4),
    (12.6, 21.8), (13.5, 20.6), (7.8, 23.4), (8.2, 21.1), (6.7, 23.3), (6.3, 21.4), (5.0, 21.9), (4.8, 24.8),
    (9.1, 18.0), (10.5, 17.0), (12.1, 16.6), (7.3, 17.7), (9.3, 11.3), (10.3, 12.2), (11.3, 13.0), (12.1, 12.1),
    (12.7, 13.6), (13.5, 12.8), (10.7, 11.7), (11.6, 10.2), (9.0, 12.7), (8.5, 12.2), (7.6, 11.8), (8.9, 10.1),
    (10.4, 13.9), (13.0, 11.0), (12.5, 14.0), (11.9, 15.0), (13.3, 15.0), (14.0, 13.0), (6.9, 12.4), (7.9, 13.8),
    (16.3, 13.4), (18.2, 12.3), (20.0, 13.6), (17.0, 10.0), (19.2, 9.8), (16.7, 14.6), (18.7, 15.0), (20.3, 15.2),
    (22.0, 14.0), (23.0, 13.3), (24.2, 14.4), (21.5, 10.5), (23.0, 10.2), (27.6, 22.9), (28.3, 21.3), (29.1, 22.7),
    (29.9, 24.5), (30.6, 23.4), (31.3, 21.2), (28.6, 19.2), (29.6, 18.8), (31.0, 20.6), (32.4, 19.0), (27.0, 26.0),
    (28.9, 28.0), (30.2, 26.5), (31.6, 28.6), (33.3, 26.5), (26.0, 30.8), (27.9, 31.1), (23.3, 31.0), (16.9, 28.0),
    (14.9, 27.9), (12.3, 29.9), (7.2, 30.2), (5.6, 28.4), (3.8, 26.3), (3.0, 23.2),
]

# cut values and the extent of the drawn cut lines
cut_adc1 = 14.5
cut_adc2 = 15.8
cut_adc1_top = 42.0
cut_adc2_end = 48.4

ticks = [0, 10, 20, 30, 40, 50, 60]

events = np.array(upper_left + upper_mid + upper_right + lower_right + mid_band
                  + lower_left + core + core_dense)

fig = plt.figure(figsize=(7.39, 6.53), dpi=100)
ax = fig.add_axes([86 / 739, 77 / 653, 653 / 739, 566 / 653])

ax.scatter(events[:, 0], events[:, 1], s=5, c="black", linewidths=0, zorder=2)
ax.plot([0, cut_adc2_end], [cut_adc2, cut_adc2], color="black", lw=1.6, zorder=3)
ax.plot([cut_adc1, cut_adc1], [0, cut_adc1_top], color="black", lw=1.6, zorder=3)

ax.set_xlim(0, 64.85)
ax.set_ylim(0, 64.0)
ax.spines["right"].set_visible(False)
for side in ["left", "bottom", "top"]:
    ax.spines[side].set_linewidth(2.0)

ax.set_xticks(ticks)
ax.set_yticks(ticks)
ax.set_xticklabels([str(t) for t in ticks])
ax.set_yticklabels([str(t) for t in ticks])
ax.tick_params(direction="in", length=5, width=1.6, top=False, right=False)
ax.tick_params(axis="x", pad=9)
ax.tick_params(axis="y", pad=6)
for lbl in ax.get_xticklabels() + ax.get_yticklabels():
    lbl.set_fontweight("bold")
    lbl.set_fontsize(11)

# cut markers outside the frame
ax.annotate("158", xy=(0, cut_adc2), xycoords=("axes fraction", "data"),
            xytext=(-6, -2), textcoords="offset points", ha="right", va="center",
            fontsize=11.5, fontweight="bold", annotation_clip=False)
ax.annotate("", xy=(cut_adc1, -1.0), xytext=(cut_adc1, -3.9),
            arrowprops=dict(arrowstyle="-|>", color="black", lw=1.6, mutation_scale=10),
            annotation_clip=False)
ax.text(cut_adc1 - 0.9, -5.3, "145", ha="center", va="center", fontsize=12, fontweight="bold", clip_on=False)

ax.text(46.3, 35.5, "PAIR PRODUCTION", ha="center", va="center", fontsize=15, zorder=4)
ax.text(42.8, 32.6, "EVENTS", ha="center", va="center", fontsize=15, zorder=4)
ax.text(5.9, 6.8, "COMPTON", ha="center", va="center", fontsize=14, zorder=4)
ax.text(5.7, 3.85, "EVENTS", ha="center", va="center", fontsize=14, zorder=4)

fig.text(562 / 739, 1 - 615 / 653, "CHARGE ADC1", ha="center", va="center", fontsize=19.5)
fig.text(25 / 739, 1 - 190 / 653, "CHARGE  ADC2", ha="center", va="center", fontsize=23, rotation=90)

fig.savefig("out.png", dpi=100)
